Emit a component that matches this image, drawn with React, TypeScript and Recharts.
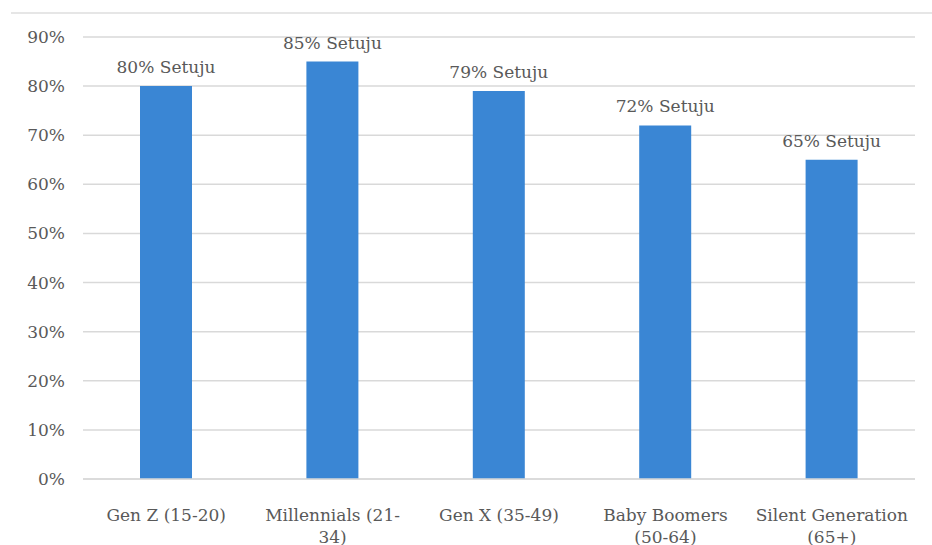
import React from "react";
import { BarChart, Bar, XAxis, YAxis, CartesianGrid, LabelList } from "recharts";

const categories = [
  "Gen Z (15-20)",
  "Millennials (21-34)",
  "Gen X (35-49)",
  "Baby Boomers (50-64)",
  "Silent Generation (65+)",
];
const categoryLines = [
  ["Gen Z (15-20)"],
  ["Millennials (21-", "34)"],
  ["Gen X (35-49)"],
  ["Baby Boomers", "(50-64)"],
  ["Silent Generation", "(65+)"],
];
const agreeValues = [80, 85, 79, 72, 65];
const yTicks = [0, 10, 20, 30, 40, 50, 60, 70, 80, 90];

const data = categories.map((c, i) => ({ name: c, value: agreeValues[i] }));

const FONT = "'DejaVu Serif', serif";
const TEXT = "#595959";

const XTick = (props: any) => {
  const { x, y, payload } = props;
  const lines = categoryLines[payload.index] || [payload.value];
  return (
    <text x={x} y={y} textAnchor="middle" fill={TEXT} fontFamily={FONT} fontSize={17}>
      {lines.map((l: string, i: number) => (
        <tspan key={i} x={x} dy={i === 0 ? 34 : 22}>
          {l}
        </tspan>
      ))}
    </text>
  );
};

const BarLabel = (props: any) => {
  const { x, y, width, value } = props;
  return (
    <text
      x={x + width / 2}
      y={y - 13}
      textAnchor="middle"
      fill={TEXT}
      fontFamily={FONT}
      fontSize={17}
    >
      {`${value}% Setuju`}
    </text>
  );
};

export default function App() {
  return (
    <div style={{ position: "absolute", left: 0, top: 0, width: 932, height: 545, background: "#fff" }}>
      <div
        style={{
          position: "absolute",
          left: 11,
          top: 12,
          width: 921,
          height: 0,
          borderTop: "2px solid #e6e6e6",
        }}
      />
      <BarChart
        width={932}
        height={545}
        data={data}
        margin={{ top: 37, right: 17, bottom: 0, left: 0 }}
      >
        <CartesianGrid vertical={false} stroke="#d9d9d9" strokeWidth={1.5} />
        <XAxis
          dataKey="name"
          axisLine={{ stroke: "#d9d9d9", strokeWidth: 1.5 }}
          tickLine={false}
          height={66}
          interval={0}
          tick={<XTick />}
        />
        <YAxis
          domain={[0, 90]}
          ticks={yTicks}
          interval={0}
          axisLine={false}
          tickLine={false}
          tickSize={0}
          tickMargin={18}
          width={83}
          tickFormatter={(v: number) => `${v}%`}
          tick={{ fill: TEXT, fontFamily: FONT, fontSize: 17 }}
        />
        <Bar dataKey="value" fill="#3A86D4" barSize={52} isAnimationActive={false}>
          <LabelList dataKey="value" content={<BarLabel />} />
        </Bar>
      </BarChart>
    </div>
  );
}
